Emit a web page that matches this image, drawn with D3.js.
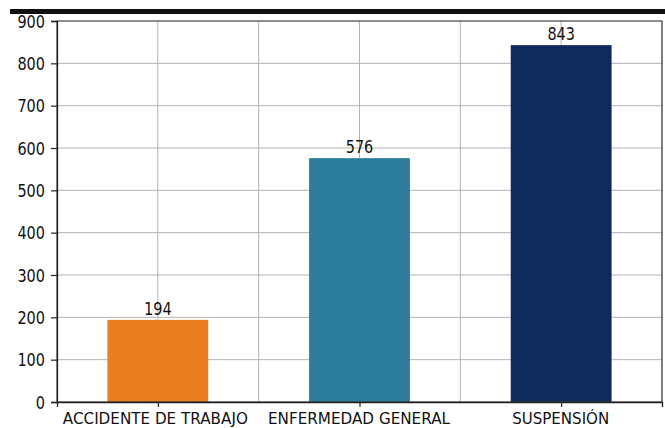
<!DOCTYPE html>
<html>
<head>
<meta charset="utf-8">
<script src="https://cdn.jsdelivr.net/npm/d3@7"></script>
<style>
html,body{margin:0;padding:0;background:#fff;}
svg{display:block;}
text{font-family:"DejaVu Sans",sans-serif;fill:#111;}
</style>
</head>
<body>
<svg id="chart" width="665" height="428"></svg>
<script>
const categories = ["ACCIDENTE DE TRABAJO", "ENFERMEDAD GENERAL", "SUSPENSIÓN"];
const values = [194, 576, 843];
const colors = ["#e87e1f", "#2c7c9c", "#0e2a5b"];
const yTicks = [0, 100, 200, 300, 400, 500, 600, 700, 800, 900];
const labelWidths = [185, 182, 97];

const svg = d3.select("#chart");
const W = 665, H = 428;
const m = {left: 57, right: 3, top: 21, bottom: 26};
const x = d3.scaleLinear().domain([-0.5, categories.length - 0.5]).range([m.left, W - m.right]);
const y = d3.scaleLinear().domain([0, 900]).range([H - m.bottom, m.top]);
const sx = 0.85;

// top black band
svg.append("rect").attr("x", 10).attr("y", 9).attr("width", W - 10).attr("height", 5).attr("fill", "#111");

// grid
const g = svg.append("g");
g.selectAll("line.hg").data(yTicks.filter(t => t > 0 && t < 900)).join("line")
  .attr("x1", m.left).attr("x2", W - m.right)
  .attr("y1", d => y(d)).attr("y2", d => y(d))
  .attr("stroke", "#b3b3b3").attr("stroke-width", 1);
const vGrid = d3.range(0, categories.length - 0.5 + 0.01, 0.5);
g.selectAll("line.vg").data(vGrid).join("line")
  .attr("x1", d => x(d)).attr("x2", d => x(d))
  .attr("y1", m.top).attr("y2", H - m.bottom)
  .attr("stroke", "#b3b3b3").attr("stroke-width", 1);

// bars
const bw = (x(1) - x(0)) * 0.5;
svg.selectAll("rect.bar").data(values).join("rect")
  .attr("class", "bar")
  .attr("x", (d, i) => x(i) - bw / 2)
  .attr("y", d => y(d))
  .attr("width", bw)
  .attr("height", d => y(0) - y(d))
  .attr("fill", (d, i) => colors[i]);

// value labels
svg.selectAll("g.vl").data(values).join("g")
  .attr("transform", (d, i) => `translate(${x(i)},${y(d) - 5}) scale(${sx},1)`)
  .append("text")
  .attr("text-anchor", "middle")
  .attr("font-size", 17)
  .text(d => d);

// frame
svg.append("rect").attr("x", m.left).attr("y", m.top)
  .attr("width", W - m.right - m.left).attr("height", H - m.bottom - m.top)
  .attr("fill", "none").attr("stroke", "#444").attr("stroke-width", 1.2);

// y axis
const yAxis = d3.axisLeft(y).tickValues(yTicks).tickSize(6).tickPadding(3);
const ya = svg.append("g").attr("transform", `translate(${m.left},0)`).call(yAxis);
ya.select(".domain").attr("stroke", "#222").attr("stroke-width", 1.3);
ya.selectAll(".tick line").attr("stroke", "#222").attr("stroke-width", 1.2);
ya.selectAll(".tick text").remove();
ya.selectAll(".tick").append("g")
  .attr("transform", `translate(-12,0) scale(${sx},1)`)
  .append("text")
  .attr("text-anchor", "end").attr("dy", "0.36em")
  .attr("font-size", 17).attr("fill", "#111")
  .text(d => d);

// x axis
const xAxis = d3.axisBottom(x).tickValues(d3.range(categories.length)).tickSize(5).tickFormat("");
const xa = svg.append("g").attr("transform", `translate(0,${H - m.bottom})`).call(xAxis);
xa.select(".domain").attr("stroke", "#222").attr("stroke-width", 1.3);
xa.selectAll(".tick line").attr("stroke", "#222").attr("stroke-width", 1.2);
xa.selectAll(".tick").append("text")
  .attr("y", 22)
  .attr("text-anchor", "middle")
  .attr("font-size", 16).attr("fill", "#111")
  .attr("textLength", (d, i) => labelWidths[i])
  .attr("lengthAdjust", "spacingAndGlyphs")
  .attr("x", (d, i) => [-3, -1, -1][i])
  .text((d, i) => categories[i]);
</script>
</body>
</html>
